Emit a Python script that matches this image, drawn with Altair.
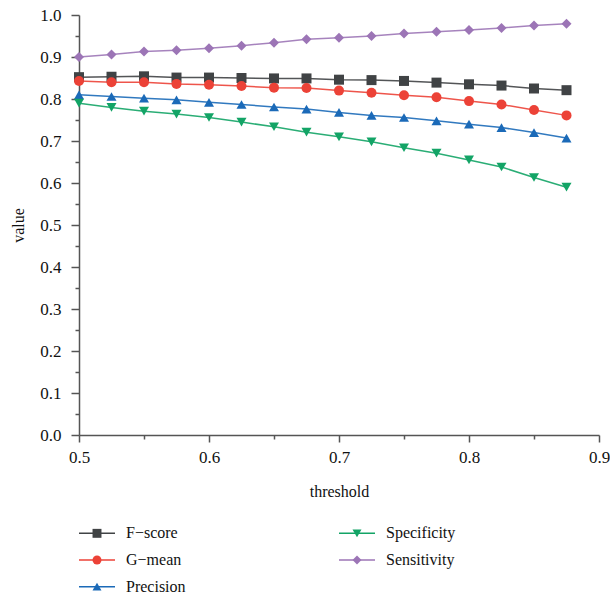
import altair as alt
import pandas as pd

thresholds = [0.5, 0.525, 0.55, 0.575, 0.6, 0.625, 0.65, 0.675, 0.7, 0.725, 0.75, 0.775, 0.8, 0.825, 0.85, 0.875]
f_score = [0.852, 0.853, 0.854, 0.851, 0.851, 0.850, 0.849, 0.849, 0.846, 0.845, 0.843, 0.839, 0.835, 0.832, 0.825, 0.821]
g_mean = [0.843, 0.840, 0.840, 0.836, 0.834, 0.831, 0.827, 0.826, 0.820, 0.815, 0.809, 0.804, 0.795, 0.787, 0.774, 0.761]
precision = [0.810, 0.806, 0.802, 0.798, 0.792, 0.787, 0.781, 0.776, 0.768, 0.761, 0.756, 0.748, 0.740, 0.732, 0.720, 0.707]
specificity = [0.790, 0.780, 0.771, 0.764, 0.756, 0.745, 0.734, 0.721, 0.710, 0.698, 0.684, 0.671, 0.655, 0.638, 0.613, 0.590]
sensitivity = [0.900, 0.906, 0.913, 0.916, 0.921, 0.927, 0.934, 0.942, 0.946, 0.950, 0.956, 0.960, 0.964, 0.969, 0.975, 0.979]

series_names = ["F\u2212score", "G\u2212mean", "Precision", "Specificity", "Sensitivity"]
series_colors = ["#404345", "#ec4237", "#1b6ab8", "#13a466", "#9c75b6"]
series_shapes = ["square", "circle", "triangle-up", "triangle-down", "diamond"]
legend_col = [0, 0, 0, 1, 1]
legend_row = [0, 1, 2, 0, 1]

x_ticks = [0.5, 0.55, 0.6, 0.65, 0.7, 0.75, 0.8, 0.85, 0.9]
y_ticks = [round(i * 0.05, 2) for i in range(21)]

values = [f_score, g_mean, precision, specificity, sensitivity]
rows = []
for name, vals in zip(series_names, values):
    for t, v in zip(thresholds, vals):
        rows.append({"threshold": t, "value": v, "series": name})
df = pd.DataFrame(rows)

leg_df = pd.DataFrame({"series": series_names, "col": legend_col, "row": legend_row})

FONT = "Liberation Serif"
color_scale = alt.Scale(domain=series_names, range=series_colors)
shape_scale = alt.Scale(domain=series_names, range=series_shapes)

major = "abs(datum.value*10 - round(datum.value*10)) < 0.001"

x_axis = alt.Axis(
    values=x_ticks, labelExpr=f"{major} ? format(datum.value, '.1f') : ''",
    tickSize={"condition": {"test": major, "value": 7}, "value": 4},
    grid=False, domainColor="#555555", tickColor="#555555", domainWidth=1.5, tickWidth=1.5,
    labelFont=FONT, labelFontSize=17, labelColor="#111111", labelPadding=7,
    titleFont=FONT, titleFontSize=16, titleFontWeight="normal", titleColor="#111111", titlePadding=18,
    labelFlush=False,
)
y_axis = alt.Axis(
    values=y_ticks, labelExpr=f"{major} ? format(datum.value, '.1f') : ''",
    tickSize={"condition": {"test": major, "value": 8}, "value": 4},
    grid=False, domainColor="#555555", tickColor="#555555", domainWidth=1.5, tickWidth=1.5,
    labelFont=FONT, labelFontSize=17, labelColor="#111111", labelPadding=10,
    titleFont=FONT, titleFontSize=16, titleFontWeight="normal", titleColor="#111111", titlePadding=13,
)

base = alt.Chart(df).encode(
    x=alt.X("threshold:Q", scale=alt.Scale(domain=[0.5, 0.9], nice=False, zero=False), axis=x_axis, title="threshold"),
    y=alt.Y("value:Q", scale=alt.Scale(domain=[0, 1], nice=False), axis=y_axis, title="value"),
    color=alt.Color("series:N", scale=color_scale, legend=None),
)
lines = base.mark_line(strokeWidth=1.5, opacity=0.9)
points = base.mark_point(filled=True, size=100, opacity=1).encode(
    shape=alt.Shape("series:N", scale=shape_scale, legend=None)
)
main = alt.layer(lines, points).properties(width=520, height=420)

lx = alt.X("col:Q", scale=alt.Scale(domain=[0, 2], nice=False, zero=False), axis=None)
ly = alt.Y("row:Q", scale=alt.Scale(domain=[-0.5, 2.5], nice=False, zero=False, reverse=True), axis=None)
lbase = alt.Chart(leg_df).encode(
    x=lx, y=ly,
    color=alt.Color("series:N", scale=color_scale, legend=None),
)
leg_lines = lbase.mark_rule(strokeWidth=1.5, x2Offset=36).encode(x2="col:Q")
leg_points = lbase.mark_point(filled=True, size=80, opacity=1, xOffset=18).encode(
    shape=alt.Shape("series:N", scale=shape_scale, legend=None)
)
leg_text = alt.Chart(leg_df).mark_text(
    align="left", baseline="middle", dx=47, font=FONT, fontSize=16, color="#111111"
).encode(x=lx, y=ly, text="series:N")
legend = alt.layer(leg_lines, leg_points, leg_text).properties(width=520, height=80)

chart = alt.vconcat(main, legend, spacing=21).properties(
    padding={"left": 10, "right": 0, "top": 6, "bottom": 0},
    background="white",
).configure(font=FONT).configure_view(strokeWidth=0, stroke="transparent")

chart.save("out.html", embed_options={"renderer": "svg", "actions": False})
